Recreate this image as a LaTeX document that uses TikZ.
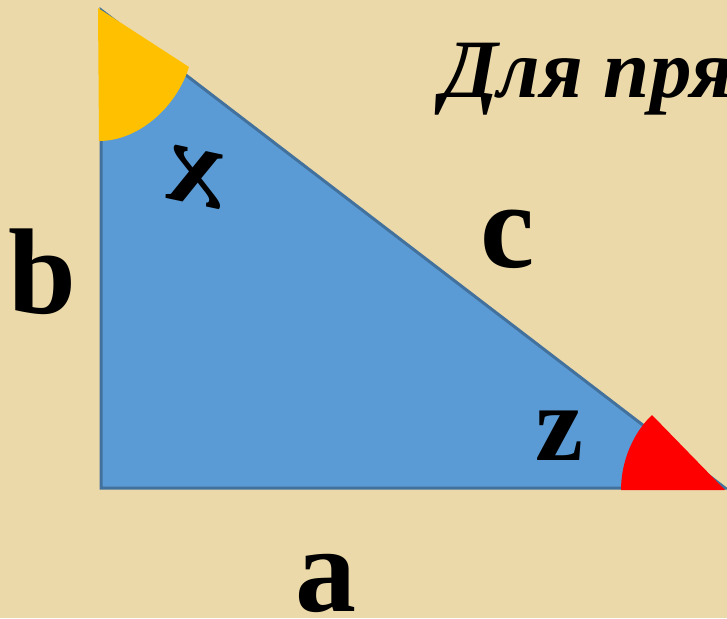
\documentclass[tikz,border=0pt]{standalone}
\usepackage{fontspec}
\setmainfont{Liberation Serif}
\begin{document}
\begin{tikzpicture}[x=1pt,y=-1pt,
  lbl/.style={font=\bfseries\fontsize{122}{122}\selectfont, inner sep=0pt, anchor=base},
  lblsmall/.style={font=\bfseries\fontsize{108}{108}\selectfont, inner sep=0pt, anchor=base},
  title/.style={font=\bfseries\itshape\fontsize{83}{83}\selectfont, inner sep=0pt, anchor=base west}]
\definecolor{parch}{HTML}{ECD9A9}
\definecolor{triblue}{HTML}{5B9BD5}
\definecolor{triedge}{HTML}{41719C}
\definecolor{angyellow}{HTML}{FFC000}
\definecolor{angred}{HTML}{FF0000}
\clip (0,0) rectangle (727,618);
\fill[parch] (0,0) rectangle (727,618);
% triangle
\coordinate (A) at (101,10);
\coordinate (B) at (101,488);
\coordinate (C) at (725,488);
\filldraw[fill=triblue, draw=triedge, line width=3pt, line join=miter] (A) -- (B) -- (C) -- cycle;
% angle sectors
\coordinate (Y1) at (99,141);
\coordinate (Y2) at (189,67);
\fill[angyellow] (98,8) -- (Y1) .. controls (138,141) and (176,108) .. (Y2) -- cycle;
\coordinate (R1) at (652,415);
\coordinate (R2) at (621,490);
\fill[angred] (725,490) -- (R1) .. controls (634,432) and (621,460) .. (R2) -- cycle;
% labels
\node[lbl] (lb) at (42,313) {b};
\node[lbl] (lc) at (508,267) {c};
\node[lbl] (la) at (326,611) {a};
\node[lblsmall] (lz) at (559,460) {z};
\node[font=\bfseries\itshape\fontsize{118}{118}\selectfont, inner sep=0pt, xscale=-1, rotate=12] (lx) at (195,177) {x};
\node[title] (tt) at (441,97) {Для пря};
\end{tikzpicture}
\end{document}
